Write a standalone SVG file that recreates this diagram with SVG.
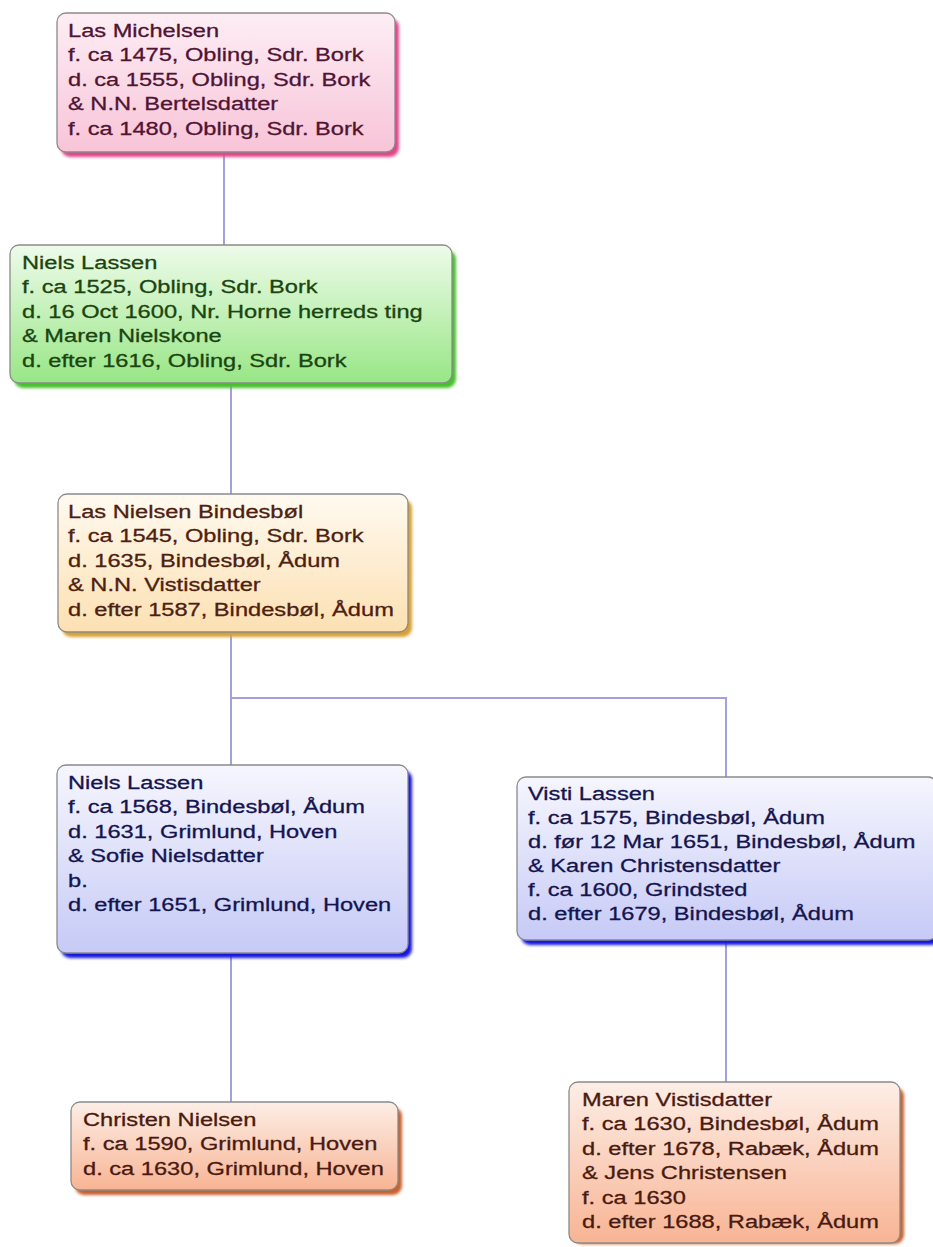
<svg xmlns="http://www.w3.org/2000/svg" width="933" height="1247" viewBox="0 0 933 1247">
<defs>
<style>
.box{stroke:#8a8a8a;stroke-width:1.3}
.sh{filter:url(#blur)}
.t{font-family:"Liberation Sans",Arial,Helvetica,sans-serif;font-size:19px;stroke-width:0.3}
.conn{fill:none;stroke:#a3a0e0;stroke-width:2}
</style>
<filter id="blur" x="-10%" y="-10%" width="120%" height="130%"><feGaussianBlur stdDeviation="1.8"/></filter>
<linearGradient id="gPink" x1="0" y1="0" x2="0" y2="1"><stop offset="0" stop-color="#fdeef4"/><stop offset="1" stop-color="#f8c4d8"/></linearGradient>
<linearGradient id="gGreen" x1="0" y1="0" x2="0" y2="1"><stop offset="0" stop-color="#eefbea"/><stop offset="1" stop-color="#98e686"/></linearGradient>
<linearGradient id="gCream" x1="0" y1="0" x2="0" y2="1"><stop offset="0" stop-color="#fffaf0"/><stop offset="1" stop-color="#fce0b2"/></linearGradient>
<linearGradient id="gBlue" x1="0" y1="0" x2="0" y2="1"><stop offset="0" stop-color="#f6f6fe"/><stop offset="1" stop-color="#c6caf6"/></linearGradient>
<linearGradient id="gSalmon" x1="0" y1="0" x2="0" y2="1"><stop offset="0" stop-color="#fdeee6"/><stop offset="1" stop-color="#f8b494"/></linearGradient>
</defs>
<rect width="933" height="1247" fill="#ffffff"/>

<g id="connectors">
<path class="conn" d="M224,152 V245"/>
<path class="conn" d="M231,383 V494"/>
<path class="conn" d="M231,632 V765 M231,698 H726 V777"/>
<path class="conn" d="M231,953 V1102"/>
<path class="conn" d="M726,940 V1082"/>
</g>

<g id="n1">
<rect class="sh" x="61" y="18" width="338" height="139" rx="9" fill="#e0468a"/>
<rect class="box" x="57" y="13" width="338" height="139" rx="9" fill="url(#gPink)"/>
<g transform="translate(68,0) scale(1.245,1)"><text class="t" fill="#501434" stroke="#501434">
<tspan x="0" y="37">Las Michelsen</tspan>
<tspan x="0" y="61.5">f. ca 1475, Obling, Sdr. Bork</tspan>
<tspan x="0" y="86">d. ca 1555, Obling, Sdr. Bork</tspan>
<tspan x="0" y="110.5">&amp; N.N. Bertelsdatter</tspan>
<tspan x="0" y="135">f. ca 1480, Obling, Sdr. Bork</tspan>
</text></g>
</g>

<g id="n2">
<rect class="sh" x="14" y="250" width="442" height="138" rx="9" fill="#46c02e"/>
<rect class="box" x="10" y="245" width="442" height="138" rx="9" fill="url(#gGreen)"/>
<g transform="translate(22,0) scale(1.245,1)"><text class="t" fill="#1b4510" stroke="#1b4510">
<tspan x="0" y="269">Niels Lassen</tspan>
<tspan x="0" y="293.5">f. ca 1525, Obling, Sdr. Bork</tspan>
<tspan x="0" y="318">d. 16 Oct 1600, Nr. Horne herreds ting</tspan>
<tspan x="0" y="342.5">&amp; Maren Nielskone</tspan>
<tspan x="0" y="367">d. efter 1616, Obling, Sdr. Bork</tspan>
</text></g>
</g>

<g id="n3">
<rect class="sh" x="62" y="499" width="350" height="138" rx="9" fill="#d8a032"/>
<rect class="box" x="58" y="494" width="350" height="138" rx="9" fill="url(#gCream)"/>
<g transform="translate(68,0) scale(1.245,1)"><text class="t" fill="#4e2010" stroke="#4e2010">
<tspan x="0" y="518">Las Nielsen Bindesbøl</tspan>
<tspan x="0" y="542.5">f. ca 1545, Obling, Sdr. Bork</tspan>
<tspan x="0" y="567">d. 1635, Bindesbøl, Ådum</tspan>
<tspan x="0" y="591.5">&amp; N.N. Vistisdatter</tspan>
<tspan x="0" y="616">d. efter 1587, Bindesbøl, Ådum</tspan>
</text></g>
</g>

<g id="n4">
<rect class="sh" x="61" y="770" width="351" height="188" rx="9" fill="#1414e0"/>
<rect class="box" x="57" y="765" width="351" height="188" rx="9" fill="url(#gBlue)"/>
<g transform="translate(68,0) scale(1.245,1)"><text class="t" fill="#14144e" stroke="#14144e">
<tspan x="0" y="789">Niels Lassen</tspan>
<tspan x="0" y="813.5">f. ca 1568, Bindesbøl, Ådum</tspan>
<tspan x="0" y="838">d. 1631, Grimlund, Hoven</tspan>
<tspan x="0" y="862.5">&amp; Sofie Nielsdatter</tspan>
<tspan x="0" y="887">b.</tspan>
<tspan x="0" y="911.5">d. efter 1651, Grimlund, Hoven</tspan>
</text></g>
</g>

<g id="n5">
<rect class="sh" x="521" y="782" width="420" height="163" rx="9" fill="#1414e0"/>
<rect class="box" x="517" y="777" width="420" height="163" rx="9" fill="url(#gBlue)"/>
<g transform="translate(528,0) scale(1.245,1)"><text class="t" fill="#14144e" stroke="#14144e">
<tspan x="0" y="800">Visti Lassen</tspan>
<tspan x="0" y="824">f. ca 1575, Bindesbøl, Ådum</tspan>
<tspan x="0" y="848">d. før 12 Mar 1651, Bindesbøl, Ådum</tspan>
<tspan x="0" y="872">&amp; Karen Christensdatter</tspan>
<tspan x="0" y="896">f. ca 1600, Grindsted</tspan>
<tspan x="0" y="920">d. efter 1679, Bindesbøl, Ådum</tspan>
</text></g>
</g>

<g id="n6">
<rect class="sh" x="75" y="1107" width="327" height="88" rx="9" fill="#c8602e"/>
<rect class="box" x="71" y="1102" width="327" height="88" rx="9" fill="url(#gSalmon)"/>
<g transform="translate(83,0) scale(1.245,1)"><text class="t" fill="#4a1a10" stroke="#4a1a10">
<tspan x="0" y="1126">Christen Nielsen</tspan>
<tspan x="0" y="1150.5">f. ca 1590, Grimlund, Hoven</tspan>
<tspan x="0" y="1175">d. ca 1630, Grimlund, Hoven</tspan>
</text></g>
</g>

<g id="n7">
<rect class="sh" x="573" y="1087" width="331" height="157" rx="9" fill="#c8602e"/>
<rect class="box" x="569" y="1082" width="331" height="161" rx="9" fill="url(#gSalmon)"/>
<g transform="translate(582,0) scale(1.245,1)"><text class="t" fill="#4a1a10" stroke="#4a1a10">
<tspan x="0" y="1106">Maren Vistisdatter</tspan>
<tspan x="0" y="1130.5">f. ca 1630, Bindesbøl, Ådum</tspan>
<tspan x="0" y="1155">d. efter 1678, Rabæk, Ådum</tspan>
<tspan x="0" y="1179.5">&amp; Jens Christensen</tspan>
<tspan x="0" y="1204">f. ca 1630</tspan>
<tspan x="0" y="1228.5">d. efter 1688, Rabæk, Ådum</tspan>
</text></g>
</g>
</svg>
